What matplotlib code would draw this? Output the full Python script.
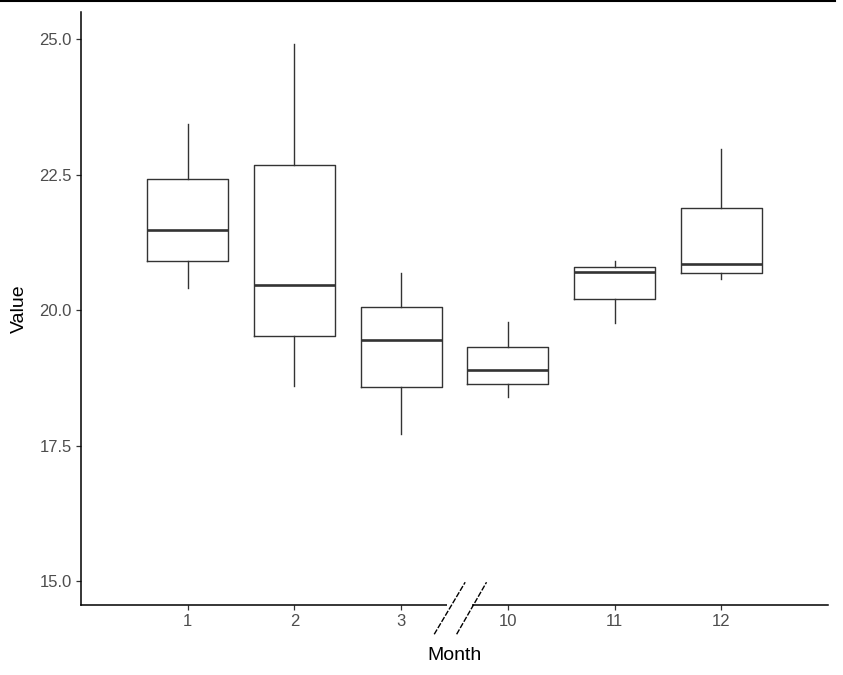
import matplotlib
matplotlib.use("Agg")
import matplotlib.pyplot as plt
from matplotlib.lines import Line2D
from matplotlib.patches import Polygon

plt.rcParams['font.family'] = ['Liberation Sans', 'DejaVu Sans']

months = ["1", "2", "3", "10", "11", "12"]
whislo = [20.40, 18.60, 17.72, 18.40, 19.77, 20.57]
q1     = [20.90, 19.52, 18.58, 18.63, 20.21, 20.68]
med    = [21.47, 20.47, 19.45, 18.90, 20.70, 20.86]
q3     = [22.42, 22.68, 20.05, 19.32, 20.79, 21.89]
whishi = [23.43, 24.91, 20.69, 19.78, 20.91, 22.98]
yticks = [15.0, 17.5, 20.0, 22.5, 25.0]

fig = plt.figure(figsize=(8.43, 6.75), dpi=100)
ax = fig.add_axes([81/843, 1-605/675, (828-81)/843, (605-12)/675])

stats = []
for i, m in enumerate(months):
    stats.append(dict(label=m, whislo=whislo[i], q1=q1[i], med=med[i],
                      q3=q3[i], whishi=whishi[i], fliers=[]))
positions = list(range(1, len(months) + 1))
ax.bxp(stats, positions=positions, widths=0.76, showcaps=False,
       boxprops=dict(color='#333333', linewidth=1.0),
       whiskerprops=dict(color='#333333', linewidth=1.0),
       medianprops=dict(color='#333333', linewidth=1.9),
       manage_ticks=False)

ax.set_xlim(0, 7)
ax.set_ylim(14.56, 25.5)
ax.set_xticks(positions)
ax.set_xticklabels(months)
ax.set_yticks(yticks)
ax.set_yticklabels([f"{v:.1f}" for v in yticks])
for s in ['top', 'right']:
    ax.spines[s].set_visible(False)
for s in ['left', 'bottom']:
    ax.spines[s].set_color('black')
    ax.spines[s].set_linewidth(1.1)
ax.tick_params(axis='both', colors='#333333', length=3.5, width=0.9,
               labelsize=12, labelcolor='#4D4D4D', pad=3)
ax.set_xlabel("Month", fontsize=14, color='black', labelpad=13)
ax.set_ylabel("Value", fontsize=14, color='black', labelpad=8)

# axis break marks "//"
gap = Polygon([(3.43, 14.4), (3.66, 14.4), (3.66, 14.7), (3.43, 14.7)],
              closed=True, facecolor='white', edgecolor='none',
              clip_on=False, zorder=5)
ax.add_patch(gap)
for x0, x1 in [(3.31, 3.60), (3.52, 3.80)]:
    ax.add_line(Line2D([x0, x1], [14.02, 14.98], color='black', lw=1.0,
                       linestyle=(0, (4, 1.2)), clip_on=False, zorder=6))

# top border line
fig.add_artist(Line2D([0, 835/843], [1-1/675, 1-1/675], color='black',
                      lw=1.5, transform=fig.transFigure))

fig.savefig("out.png", dpi=100)
